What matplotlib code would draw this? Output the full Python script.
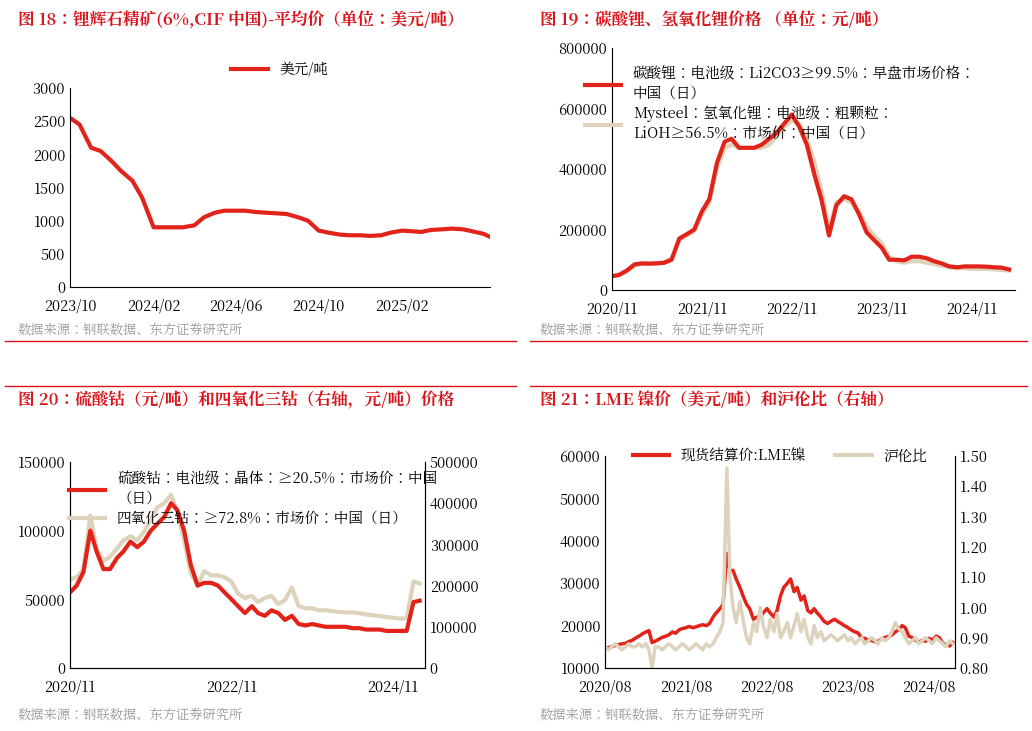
import numpy as np
import pandas as pd
import matplotlib
matplotlib.use("Agg")
import matplotlib.pyplot as plt
from matplotlib.lines import Line2D
from matplotlib import font_manager

# pick whatever CJK family is actually registered
cjk = [f.name for f in font_manager.fontManager.ttflist if 'CJK' in f.name]
cjk_pref = [n for n in cjk if 'SC' in n] + cjk
plt.rcParams['font.family'] = 'sans-serif'
plt.rcParams['font.sans-serif'] = (cjk_pref[:1] if cjk_pref else []) + \
    ['Noto Sans CJK SC', 'Noto Sans CJK JP', 'DejaVu Sans']
plt.rcParams['axes.unicode_minus'] = False

RED = '#e2231a'
BEIGE = '#ddd3bd'
TRED = '#d9141b'

# ---- data ----
# fig 18: spodumene, semi-monthly from 2023-10
spod_dates = pd.date_range('2023-10-01', periods=42, freq='SMS')
spod = [2550, 2450, 2100, 2050, 1900, 1750, 1600, 1350, 900, 900, 900, 900, 930, 1050, 1120, 1150,
        1150, 1150, 1130, 1120, 1110, 1100, 1050, 1000, 850, 820, 790, 780, 780, 770, 780, 820,
        850, 840, 830, 860, 870, 880, 870, 840, 800, 730]

# fig 19: lithium carbonate / hydroxide, monthly from 2020-11
li_dates = pd.date_range('2020-11-01', periods=54, freq='MS')
li2co3 = [45000, 50000, 65000, 85000, 88000, 87000, 88000, 90000, 100000, 170000, 185000, 200000,
          260000, 300000, 420000, 490000, 500000, 470000, 470000, 470000, 480000, 500000, 520000, 550000,
          580000, 540000, 480000, 380000, 300000, 180000, 280000, 310000, 300000, 250000, 190000, 165000,
          140000, 100000, 100000, 98000, 110000, 110000, 105000, 95000, 88000, 78000, 75000, 78000,
          78000, 78000, 77000, 75000, 74000, 68000]
lioh = [48000, 52000, 62000, 80000, 86000, 88000, 88000, 92000, 105000, 165000, 180000, 195000,
        250000, 290000, 400000, 470000, 480000, 470000, 470000, 470000, 470000, 480000, 510000, 540000,
        560000, 550000, 500000, 420000, 330000, 200000, 290000, 300000, 290000, 260000, 210000, 180000,
        155000, 110000, 95000, 90000, 95000, 95000, 90000, 85000, 80000, 75000, 72000, 72000,
        70000, 70000, 70000, 68000, 66000, 64000]

# fig 20: cobalt, monthly from 2020-11
co_dates = pd.date_range('2020-11-01', periods=53, freq='MS')
coso4 = [55000, 60000, 70000, 100000, 85000, 72000, 72000, 80000, 85000, 92000, 88000, 92000,
         100000, 105000, 110000, 120000, 115000, 100000, 75000, 60000, 62000, 62000, 60000, 55000,
         50000, 45000, 40000, 45000, 40000, 38000, 42000, 40000, 35000, 38000, 32000, 31000,
         32000, 31000, 30000, 30000, 30000, 30000, 29000, 29000, 28000, 28000, 28000, 27000,
         27000, 27000, 27000, 48000, 49000]
co3o4 = [215000, 220000, 240000, 370000, 290000, 260000, 270000, 290000, 310000, 320000, 310000, 330000,
         360000, 390000, 400000, 420000, 380000, 310000, 230000, 200000, 235000, 225000, 225000, 220000,
         210000, 180000, 170000, 175000, 160000, 170000, 175000, 155000, 165000, 195000, 150000, 145000,
         145000, 140000, 140000, 138000, 136000, 135000, 135000, 133000, 130000, 128000, 126000, 124000,
         122000, 120000, 120000, 210000, 205000]

# fig 21: LME nickel and ratio, semi-monthly from 2020-08
ni_dates = pd.date_range('2020-08-01', periods=104, freq='SMS')
lme = [14500, 14800, 15000, 15300, 15500, 15700, 15800, 16200, 16500, 17000, 17500, 18000,
       18500, 18800, 16000, 16300, 16800, 17200, 17500, 17800, 18500, 18200, 19000, 19300,
       19500, 19800, 19500, 19700, 20000, 20200, 20000, 20500, 22000, 23000, 24000, 25000,
       37000, 33000, 33000, 31000, 29000, 27000, 25000, 24000, 21500, 22000, 22000, 23000,
       24000, 23000, 22000, 23500, 27000, 29000, 30000, 31000, 28000, 29000, 26000, 27000,
       23500, 23000, 24000, 23000, 22000, 21000, 20500, 21000, 21500, 21000, 20500, 20000,
       19500, 19000, 18500, 18300, 17000, 17000, 16500, 16500, 16200, 16300, 17000, 17200,
       17500, 17800, 18500, 19000, 20000, 19500, 17500, 17200, 16500, 16200, 16500, 16300,
       17000, 16500, 17500, 17200, 15800, 15500, 15200, 16000]
ratio = [0.87, 0.86, 0.87, 0.88, 0.87, 0.86, 0.87, 0.88, 0.87, 0.87, 0.88, 0.87,
         0.88, 0.86, 0.80, 0.87, 0.87, 0.86, 0.87, 0.88, 0.87, 0.86, 0.87, 0.88,
         0.87, 0.86, 0.87, 0.88, 0.87, 0.86, 0.88, 0.87, 0.88, 0.90, 0.92, 0.95,
         1.46, 1.10, 1.00, 0.95, 1.02, 0.96, 0.90, 0.88, 0.95, 0.92, 1.00, 0.94,
         0.90, 0.96, 0.92, 0.98, 0.90, 0.92, 0.95, 0.90, 0.94, 0.98, 0.92, 0.96,
         0.90, 0.88, 0.94, 0.90, 0.92, 0.89, 0.90, 0.91, 0.90, 0.89, 0.90, 0.91,
         0.89, 0.90, 0.88, 0.89, 0.90, 0.88, 0.89, 0.90, 0.89, 0.88, 0.90, 0.89,
         0.90, 0.92, 0.95, 0.93, 0.92, 0.90, 0.88, 0.89, 0.90, 0.88, 0.89, 0.90,
         0.89, 0.88, 0.90, 0.89, 0.88, 0.87, 0.89, 0.88]

W, H = 1032, 731
fig = plt.figure(figsize=(W / 100, H / 100), dpi=100)


def px(x, y):
    return x / W, 1 - y / H


def style(ax, right=False):
    for s in ['top', 'right']:
        ax.spines[s].set_visible(False)
    if right:
        ax.spines['right'].set_visible(True)
    ax.tick_params(labelsize=10.5, length=0)
    ax.tick_params(axis='x', pad=8)
    ax.set_facecolor('none')


def fmt_x(ax, ticks, labels):
    ax.set_xticks(pd.to_datetime(ticks))
    ax.set_xticklabels(labels)


# titles, sources, separators
titles = [(18, 20, '图 18：锂辉石精矿(6%,CIF 中国)-平均价（单位：美元/吨）'),
          (540, 20, '图 19：碳酸锂、氢氧化锂价格 （单位：元/吨）'),
          (18, 400, '图 20：硫酸钴（元/吨）和四氧化三钴（右轴，元/吨）价格'),
          (540, 400, '图 21：LME 镍价（美元/吨）和沪伦比（右轴）')]
for x, y, t in titles:
    fig.text(*px(x, y), t, color=TRED, fontsize=12, fontweight='bold', va='center')
for x, y in [(18, 331), (540, 331), (18, 716), (540, 716)]:
    fig.text(*px(x, y), '数据来源：钢联数据、东方证券研究所', color='#999999', fontsize=9.5, va='center')
for y in [341, 386]:
    for x0, x1 in [(5, 516), (530, 1027)]:
        fig.add_artist(Line2D([x0 / W, x1 / W], [1 - y / H] * 2, color=TRED, lw=1))

# fig 18
ax1 = fig.add_axes([70 / W, 1 - 287 / H, 420 / W, 199 / H])
style(ax1)
ax1.plot(spod_dates, spod, color=RED, lw=3, label='美元/吨')
ax1.set_ylim(0, 3000)
ax1.set_yticks(range(0, 3001, 500))
ax1.set_xlim(pd.Timestamp('2023-10-01'), pd.Timestamp('2025-06-10'))
fmt_x(ax1, ['2023-10-01', '2024-02-01', '2024-06-01', '2024-10-01', '2025-02-01'],
      ['2023/10', '2024/02', '2024/06', '2024/10', '2025/02'])
ax1.legend(loc='upper center', bbox_to_anchor=(0.5, 1.2), frameon=False, fontsize=10.5,
           handlelength=2.5)

# fig 19
ax2 = fig.add_axes([612 / W, 1 - 290 / H, 403 / W, 242 / H])
style(ax2)
ax2.plot(li_dates, lioh, color=BEIGE, lw=3)
ax2.plot(li_dates, li2co3, color=RED, lw=3)
ax2.set_ylim(0, 800000)
ax2.set_yticks(range(0, 800001, 200000))
ax2.set_xlim(pd.Timestamp('2020-11-01'), pd.Timestamp('2025-04-25'))
fmt_x(ax2, ['2020-11-01', '2021-11-01', '2022-11-01', '2023-11-01', '2024-11-01'],
      ['2020/11', '2021/11', '2022/11', '2023/11', '2024/11'])
ax2.legend([Line2D([], [], color=RED, lw=3), Line2D([], [], color=BEIGE, lw=3)],
           ['碳酸锂：电池级：Li2CO3≥99.5%：早盘市场价格：\n中国（日）',
            'Mysteel：氢氧化锂：电池级：粗颗粒：\nLiOH≥56.5%：市场价：中国（日）'],
           loc='upper left', bbox_to_anchor=(-0.1, 0.98), frameon=False, fontsize=10.5,
           handlelength=2.5, labelspacing=0.3, alignment='left')

# fig 20
ax3 = fig.add_axes([70 / W, 1 - 668 / H, 355 / W, 206 / H])
style(ax3, right=True)
ax3r = ax3.twinx()
style(ax3r, right=True)
ax3r.plot(co_dates, co3o4, color=BEIGE, lw=3)
ax3.plot(co_dates, coso4, color=RED, lw=3)
ax3.set_zorder(ax3r.get_zorder() + 1)
ax3.set_ylim(0, 150000)
ax3.set_yticks(range(0, 150001, 50000))
ax3r.set_ylim(0, 500000)
ax3r.set_yticks(range(0, 500001, 100000))
ax3.set_xlim(pd.Timestamp('2020-11-01'), pd.Timestamp('2025-03-25'))
fmt_x(ax3, ['2020-11-01', '2022-11-01', '2024-11-01'], ['2020/11', '2022/11', '2024/11'])
ax3.legend([Line2D([], [], color=RED, lw=3), Line2D([], [], color=BEIGE, lw=3)],
           ['硫酸钴：电池级：晶体：≥20.5%：市场价：中国\n（日）',
            '四氧化三钴：≥72.8%：市场价：中国（日）'],
           loc='upper left', bbox_to_anchor=(-0.04, 1.02), frameon=False, fontsize=10.5,
           handlelength=2.5, labelspacing=0.3)

# fig 21
ax4 = fig.add_axes([605 / W, 1 - 668 / H, 350 / W, 212 / H])
style(ax4, right=True)
ax4r = ax4.twinx()
style(ax4r, right=True)
ax4.plot(ni_dates, lme, color=RED, lw=2.5)
ax4r.plot(ni_dates, ratio, color=BEIGE, lw=2.5)
ax4.set_ylim(10000, 60000)
ax4.set_yticks(range(10000, 60001, 10000))
ax4r.set_ylim(0.8, 1.5)
ax4r.set_yticks(np.arange(0.8, 1.51, 0.1))
ax4r.set_yticklabels([f'{v:.2f}' for v in np.arange(0.8, 1.51, 0.1)])
ax4.set_xlim(pd.Timestamp('2020-08-20'), pd.Timestamp('2024-11-25'))
fmt_x(ax4, ['2020-08-01', '2021-08-01', '2022-08-01', '2023-08-01', '2024-08-01'],
      ['2020/08', '2021/08', '2022/08', '2023/08', '2024/08'])
ax4.legend([Line2D([], [], color=RED, lw=3), Line2D([], [], color=BEIGE, lw=3)],
           ['现货结算价:LME镍', '沪伦比'], loc='upper center', bbox_to_anchor=(0.5, 1.1),
           ncol=2, frameon=False, fontsize=10.5, handlelength=2.5)

fig.savefig('out.png', dpi=100)
